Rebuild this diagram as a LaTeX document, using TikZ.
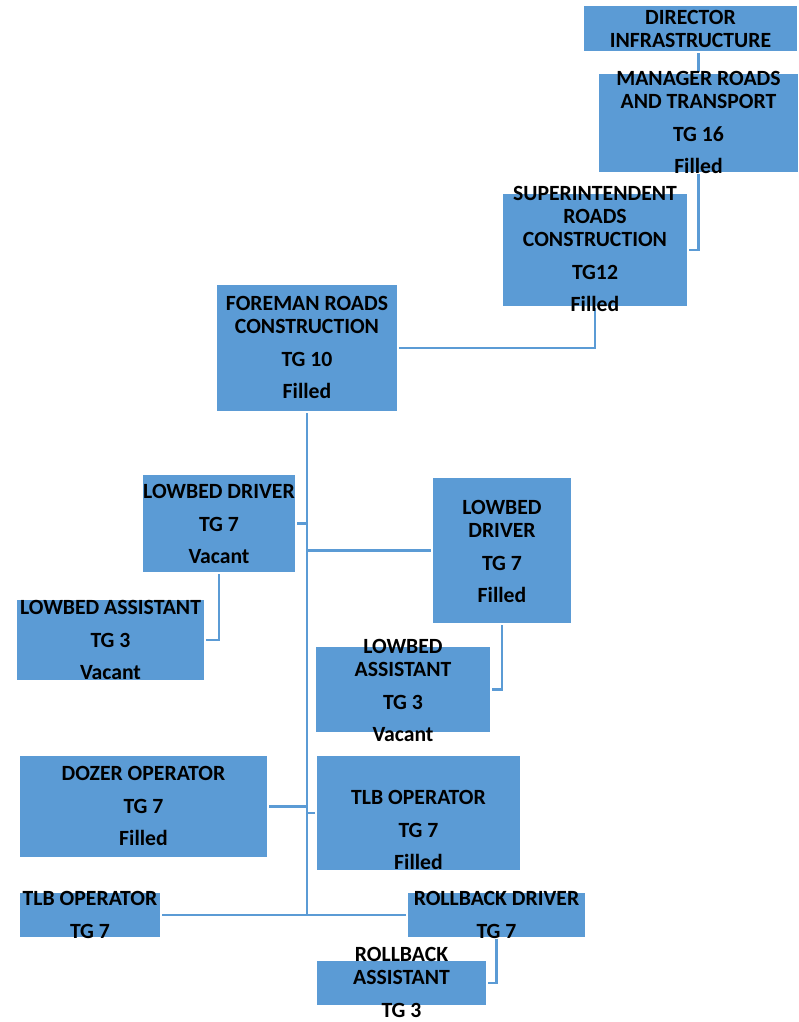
\documentclass[tikz,border=0pt]{standalone}
\usepackage{fontspec}
\setmainfont{Carlito}
\begin{document}
\begin{tikzpicture}[x=1pt,y=-1pt,
  box/.style={fill=boxblue,draw=none,inner sep=0pt,anchor=center},
  lbl/.style={font=\fontsize{21.7}{23}\selectfont\bfseries,align=center,inner sep=0pt,anchor=north,text=black},
  link/.style={draw=boxblue,line width=2.9pt,shorten <=2pt,shorten >=2pt}]
\definecolor{boxblue}{HTML}{5B9BD5}
% page frame
\path[use as bounding box,fill=white] (0,0) rectangle (799,1022);

% position boxes
\node[box,minimum width=213pt,minimum height=45pt]  (dir)  at (690.5,28.5) {};
\node[box,minimum width=199pt,minimum height=98pt]  (mgr)  at (698.5,123)  {};
\node[box,minimum width=184pt,minimum height=112pt] (sup)  at (595,250)    {};
\node[box,minimum width=180pt,minimum height=126pt] (for)  at (307,348)    {};
\node[box,minimum width=152pt,minimum height=97pt]  (ldL)  at (219,523.5)  {};
\node[box,minimum width=187pt,minimum height=80pt]  (laL)  at (110.5,640)  {};
\node[box,minimum width=138pt,minimum height=145pt] (ldR)  at (502,550.5)  {};
\node[box,minimum width=174pt,minimum height=85pt]  (laR)  at (403,689.5)  {};
\node[box,minimum width=247pt,minimum height=101pt] (doz)  at (143.5,806.5){};
\node[box,minimum width=203pt,minimum height=114pt] (tlbR) at (418.5,813)  {};
\node[box,minimum width=140pt,minimum height=44pt]  (tlbL) at (90,915)     {};
\node[box,minimum width=177pt,minimum height=44pt]  (rbD)  at (496.5,915)  {};
\node[box,minimum width=169pt,minimum height=44pt]  (rbA)  at (401.5,983)  {};

% reporting lines
\coordinate (trunkEnd) at (for.south |- tlbL.east);
\draw[link] (mgr.north) -- (mgr.north |- dir.south);
\draw[link] (mgr.south) |- (sup.east);
\draw[link] (sup.south) |- (for.east);
\draw[link,shorten >=0pt] (for.south) -- (trunkEnd);
\draw[link,shorten >=0pt] (ldL.east) -- (ldL.east -| for.south);
\draw[link,shorten >=0pt] (ldR.west) -- (ldR.west -| for.south);
\draw[link] (ldL.south) |- (laL.east);
\draw[link] (ldR.south) |- (laR.east);
\draw[link,shorten >=0pt] (doz.east) -- (doz.east -| for.south);
\draw[link,shorten >=0pt] (tlbR.west) -- (tlbR.west -| for.south);
\draw[link] (tlbL.east) -- (rbD.west);
\draw[link] (rbD.south) |- (rbA.east);

% titles
\node[lbl] (dir-t)  at (690.5,10.2) {DIRECTOR\\INFRASTRUCTURE};
\node[lbl] (mgr-t)  at (698.5,71.2) {MANAGER ROADS\\AND TRANSPORT\\[9.5pt]TG 16\\[9.5pt]Filled};
\node[lbl] (sup-t)  at (595,186.2)  {SUPERINTENDENT\\ROADS\\CONSTRUCTION\\[9.5pt]TG12\\[9.5pt]Filled};
\node[lbl] (for-t)  at (307,296.2)  {FOREMAN ROADS\\CONSTRUCTION\\[9.5pt]TG 10\\[9.5pt]Filled};
\node[lbl] (ldL-t)  at (219,484.2)  {LOWBED DRIVER\\[9.5pt]TG 7\\[9.5pt]Vacant};
\node[lbl] (laL-t)  at (110.5,600.2){LOWBED ASSISTANT\\[9.5pt]TG 3\\[9.5pt]Vacant};
\node[lbl] (ldR-t)  at (502,500.2)  {LOWBED\\DRIVER\\[9.5pt]TG 7\\[9.5pt]Filled};
\node[lbl] (laR-t)  at (403,639.2)  {LOWBED\\ASSISTANT\\[9.5pt]TG 3\\[9.5pt]Vacant};
\node[lbl] (doz-t)  at (143.5,766.2){DOZER OPERATOR\\[9.5pt]TG 7\\[9.5pt]Filled};
\node[lbl] (tlbR-t) at (418.5,790.2){TLB OPERATOR\\[9.5pt]TG 7\\[9.5pt]Filled};
\node[lbl] (tlbL-t) at (90,891.2)   {TLB OPERATOR\\[9.5pt]TG 7};
\node[lbl] (rbD-t)  at (496.5,891.2){ROLLBACK DRIVER\\[9.5pt]TG 7};
\node[lbl] (rbA-t)  at (401.5,947.2){ROLLBACK\\ASSISTANT\\[9.5pt]TG 3};
\end{tikzpicture}
\end{document}
